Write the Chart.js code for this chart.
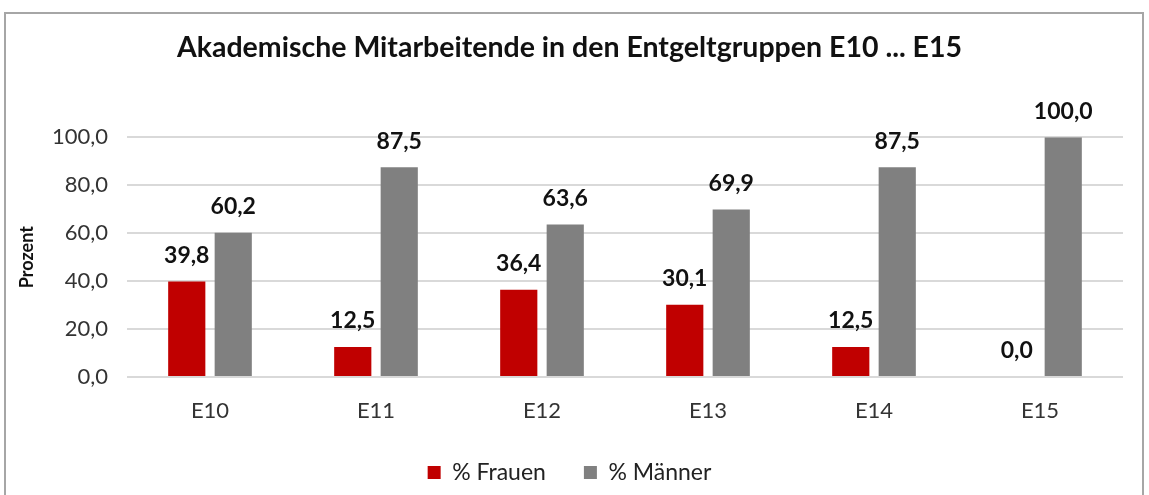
<!DOCTYPE html>
<html>
<head>
<meta charset="utf-8">
<script src="https://cdn.jsdelivr.net/npm/chart.js@4/dist/chart.umd.min.js"></script>
<style>
  html, body { margin: 0; padding: 0; background: #fff; overflow: hidden; }
  #box {
    position: absolute; left: 4px; top: 12px; width: 1140px; height: 500px;
    border: 2px solid #a6a6a6; border-bottom: none; box-sizing: border-box;
  }
  #wrap { position: absolute; left: 0; top: 0; width: 1136px; height: 481px; }
</style>
</head>
<body>
<div id="box"><div id="wrap"><canvas id="chart"></canvas></div></div>
<script>
// data
const groups = ['E10', 'E11', 'E12', 'E13', 'E14', 'E15'];
const frauen = [39.8, 12.5, 36.4, 30.1, 12.5, 0.0];
const maenner = [60.2, 87.5, 63.6, 69.9, 87.5, 100.0];
const fontName = 'Lato, "Open Sans", sans-serif';

// value labels above bars
const barLabels = {
  id: 'barLabels',
  afterDatasetsDraw(chart) {
    const ctx = chart.ctx;
    ctx.save();
    ctx.font = 'bold 23px ' + fontName;
    ctx.fillStyle = '#111';
    ctx.textAlign = 'center';
    ctx.textBaseline = 'middle';
    chart.data.datasets.forEach((ds, i) => {
      chart.getDatasetMeta(i).data.forEach((bar, j) => {
        ctx.fillText(ds.data[j].toFixed(1).replace('.', ','), bar.x, bar.y - 26);
      });
    });
    ctx.restore();
  }
};

new Chart(document.getElementById('chart'), {
  type: 'bar',
  data: {
    labels: groups,
    datasets: [
      { label: '% Frauen', data: frauen, backgroundColor: '#c00000' },
      { label: '% Männer', data: maenner, backgroundColor: '#808080' }
    ]
  },
  options: {
    responsive: true,
    maintainAspectRatio: false,
    animation: false,
    layout: { padding: { left: 10, right: 19, top: 0, bottom: 1 } },
    datasets: { bar: { barPercentage: 0.8, categoryPercentage: 0.56 } },
    plugins: {
      title: {
        display: true,
        text: 'Akademische Mitarbeitende in den Entgeltgruppen E10 ... E15',
        font: { family: fontName, size: 28.5, weight: 'bold' },
        color: '#111',
        padding: { top: 17, bottom: 72 }
      },
      legend: {
        position: 'bottom',
        labels: {
          boxWidth: 13, boxHeight: 13, padding: 38,
          font: { family: fontName, size: 23 }, color: '#222'
        }
      },
      tooltip: { enabled: false }
    },
    scales: {
      x: {
        afterFit(scale) { scale.height = 46; },
        grid: { display: false },
        border: { display: false },
        ticks: { font: { family: fontName, size: 22 }, color: '#333', padding: 13 }
      },
      y: {
        min: 0, max: 100,
        afterFit(scale) { scale.width = 111; },
        grid: { color: '#d9d9d9', lineWidth: 2, drawTicks: false },
        border: { display: false },
        ticks: {
          stepSize: 20, padding: 19,
          font: { family: fontName, size: 22 }, color: '#333',
          callback: v => v.toFixed(1).replace('.', ',')
        },
        title: {
          display: true, text: 'Prozent',
          font: { family: fontName, size: 18, weight: 'bold' }, color: '#111',
          padding: 0
        }
      }
    }
  },
  plugins: [barLabels]
});
</script>
</body>
</html>
